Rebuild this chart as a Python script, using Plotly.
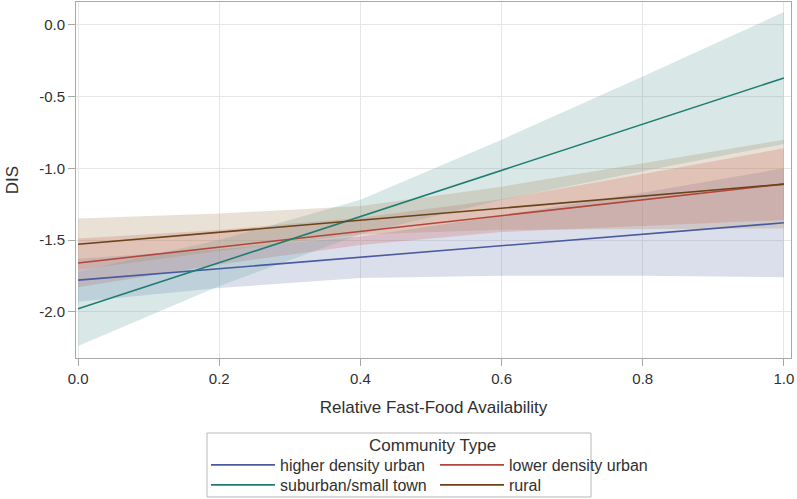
import plotly.graph_objects as go

# ---- data ----
x_line = [0.0, 1.0]
band_x = [0.0, 0.2, 0.4, 0.6, 0.8, 1.0]

categories = ["higher density urban", "lower density urban", "suburban/small town", "rural"]

line_high = [-1.78, -1.38]
line_low = [-1.66, -1.11]
line_sub = [-1.98, -0.37]
line_rur = [-1.53, -1.11]

upper_high = [-1.63, -1.565, -1.475, -1.33, -1.17, -1.00]
lower_high = [-1.93, -1.835, -1.765, -1.75, -1.75, -1.76]

upper_low = [-1.49, -1.43, -1.345, -1.215, -1.04, -0.86]
lower_low = [-1.83, -1.67, -1.535, -1.445, -1.40, -1.36]

upper_sub = [-1.72, -1.50, -1.22, -0.80, -0.36, 0.09]
lower_sub = [-2.24, -1.82, -1.46, -1.22, -1.02, -0.83]

upper_rur = [-1.35, -1.316, -1.262, -1.128, -0.964, -0.80]
lower_rur = [-1.71, -1.576, -1.462, -1.428, -1.424, -1.42]

x_ticks = [0.0, 0.2, 0.4, 0.6, 0.8, 1.0]
x_ticktext = ["0.0", "0.2", "0.4", "0.6", "0.8", "1.0"]
y_ticks = [-2.0, -1.5, -1.0, -0.5, 0.0]
y_ticktext = ["-2.0", "-1.5", "-1.0", "-0.5", "0.0"]

# ---- styles ----
line_colors = ["#4a5a9e", "#b0463c", "#1d7d72", "#6a4318"]
band_colors = ["rgba(111,126,179,0.25)", "rgba(208,91,91,0.25)",
               "rgba(102,165,160,0.25)", "rgba(169,134,91,0.25)"]
FONT = "Liberation Sans, Arial, sans-serif"
TXT = "#303030"

lines = [line_high, line_low, line_sub, line_rur]
uppers = [upper_high, upper_low, upper_sub, upper_rur]
lowers = [lower_high, lower_low, lower_sub, lower_rur]
legends = ["legend", "legend", "legend2", "legend2"]

fig = go.Figure()

for i in range(4):
    fig.add_trace(go.Scatter(
        x=band_x + band_x[::-1],
        y=uppers[i] + lowers[i][::-1],
        fill="toself", fillcolor=band_colors[i],
        line=dict(width=0), mode="lines",
        hoverinfo="skip", showlegend=False,
    ))

for i in range(4):
    fig.add_trace(go.Scatter(
        x=x_line, y=lines[i], mode="lines", name=categories[i],
        line=dict(color=line_colors[i], width=1.6),
        legend=legends[i],
    ))

axis_common = dict(
    showline=True, linecolor="#a8a8a8", linewidth=1, mirror=True,
    showgrid=True, gridcolor="#e6e6e6", gridwidth=1,
    zeroline=False, ticks="outside", ticklen=7, tickcolor="#a8a8a8",
    tickfont=dict(family=FONT, size=15, color=TXT),
)

fig.update_xaxes(
    range=[-0.003, 1.01], tickvals=x_ticks, ticktext=x_ticktext,
    title=dict(text="Relative Fast-Food Availability",
               font=dict(family=FONT, size=17, color=TXT), standoff=15),
    **axis_common,
)
fig.update_yaxes(
    range=[-2.323, 0.16], tickvals=y_ticks, ticktext=y_ticktext,
    title=dict(text="DIS", font=dict(family=FONT, size=17, color=TXT), standoff=16),
    **axis_common,
)

leg_common = dict(
    orientation="h", xanchor="left", yanchor="middle",
    font=dict(family=FONT, size=16, color=TXT),
    itemwidth=64, entrywidth=150, entrywidthmode="pixels",
    bgcolor="rgba(0,0,0,0)", borderwidth=0, itemclick=False,
)

fig.update_layout(
    width=797, height=499,
    margin=dict(l=76, r=6, t=2, b=141, autoexpand=False),
    plot_bgcolor="white", paper_bgcolor="white",
    font=dict(family=FONT, color=TXT),
    legend=dict(x=0.1818, y=-0.3006, **leg_common),
    legend2=dict(x=0.1818, y=-0.3567, **leg_common),
    annotations=[dict(
        text="Community Type", xref="paper", yref="paper",
        x=0.498, y=-0.2444, xanchor="center", yanchor="middle",
        showarrow=False, font=dict(family=FONT, size=17, color=TXT),
    )],
    shapes=[dict(
        type="rect", xref="paper", yref="paper",
        x0=0.1832, x1=0.7203, y0=-0.3904, y1=-0.2107,
        line=dict(color="#b8b8b8", width=1), fillcolor="rgba(0,0,0,0)",
    )],
)

fig.write_html("out.html")
